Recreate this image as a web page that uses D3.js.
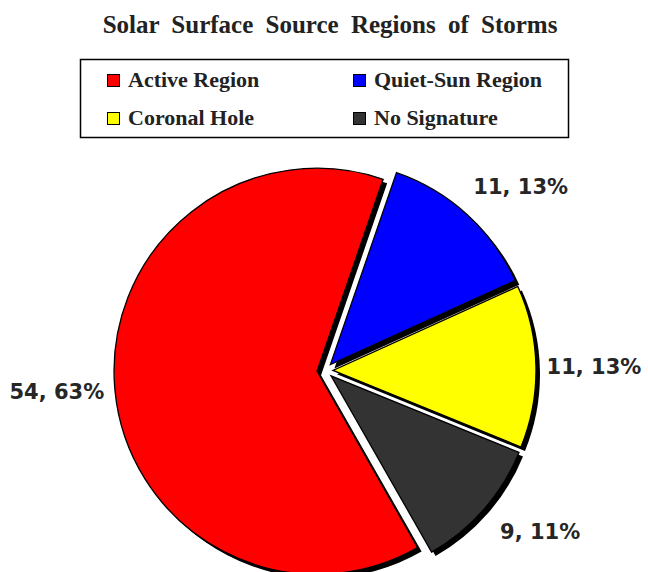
<!DOCTYPE html>
<html>
<head>
<meta charset="utf-8">
<script src="https://cdn.jsdelivr.net/npm/d3@7/dist/d3.min.js"></script>
<style>
  html, body { margin: 0; padding: 0; background: #fff; }
  svg { display: block; }
</style>
</head>
<body>
<svg id="chart" width="648" height="572"></svg>
<script>
// Storm source regions on the solar surface
const categories = ["Active Region", "Quiet-Sun Region", "Coronal Hole", "No Signature"];
const counts = [54, 11, 11, 9];
const percents = [63, 13, 13, 11];
const colors = ["#ff0000", "#0000ff", "#ffff00", "#333333"];

const width = 648, height = 572;
const svg = d3.select("#chart");

// Title
svg.append("text")
  .attr("x", 330)
  .attr("y", 33)
  .attr("text-anchor", "middle")
  .style("font-family", "'Liberation Serif', 'Times New Roman', serif")
  .style("font-weight", "bold")
  .style("font-size", "25px")
  .style("word-spacing", "6px")
  .attr("fill", "#222")
  .text("Solar Surface Source Regions of Storms");

// Legend box, two columns by two rows
const legend = svg.append("g");
legend.append("rect")
  .attr("x", 80.5).attr("y", 59.5)
  .attr("width", 488).attr("height", 78)
  .attr("fill", "#fff")
  .attr("stroke", "#000")
  .attr("stroke-width", 1.5);

const colX = d3.scaleOrdinal().domain([0, 1]).range([107, 353]);
const rowY = d3.scaleOrdinal().domain([0, 1]).range([87, 125]);

const items = legend.selectAll("g.item")
  .data(categories)
  .join("g")
  .attr("class", "item")
  .attr("transform", (d, i) => `translate(${colX(i % 2)},${rowY(Math.floor(i / 2))})`);

items.append("rect")
  .attr("x", 0.5).attr("y", -12.5)
  .attr("width", 12).attr("height", 12)
  .attr("fill", (d, i) => colors[i])
  .attr("stroke", "#000")
  .attr("stroke-width", 1);

items.append("text")
  .attr("x", 21)
  .attr("y", 0)
  .style("font-family", "'Liberation Serif', 'Times New Roman', serif")
  .style("font-weight", "bold")
  .style("font-size", "22px")
  .attr("fill", "#222")
  .text(d => d);

// Pie
const cx = 325, cy = 370.5;
const radius = 203;
const explode = 8;
const shadowOffset = 4;
const firstSliceAngle = 150.3 * Math.PI / 180;

const pie = d3.pie()
  .sort(null)
  .value(d => d)
  .startAngle(firstSliceAngle)
  .endAngle(firstSliceAngle + 2 * Math.PI);

const arcs = pie(counts);
const arc = d3.arc().innerRadius(0).outerRadius(radius);

const midAngle = a => (a.startAngle + a.endAngle) / 2;

const offset = a => {
  const mid = midAngle(a);
  return [explode * Math.sin(mid), -explode * Math.cos(mid)];
};

// Labels sit outside the rim, eased toward the horizontal axis
const labelRadius = 269;
const labelPos = a => {
  const m = midAngle(a);
  const t = m + (4.4 * Math.PI / 180) * Math.sin(2 * m);
  return [labelRadius * Math.sin(t), -labelRadius * Math.cos(t)];
};

const pieG = svg.append("g").attr("transform", `translate(${cx},${cy})`);

// Drop shadows beneath all slices
pieG.selectAll("path.shadow")
  .data(arcs)
  .join("path")
  .attr("class", "shadow")
  .attr("transform", a => {
    const [dx, dy] = offset(a);
    return `translate(${dx + shadowOffset},${dy + shadowOffset})`;
  })
  .attr("d", arc)
  .attr("fill", "#000");

// Slices
pieG.selectAll("path.slice")
  .data(arcs)
  .join("path")
  .attr("class", "slice")
  .attr("transform", a => {
    const [dx, dy] = offset(a);
    return `translate(${dx},${dy})`;
  })
  .attr("d", arc)
  .attr("fill", (a, i) => colors[i])
  .attr("stroke", "#000")
  .attr("stroke-width", 1.3)
  .attr("stroke-linejoin", "miter");

// Value labels outside the pie
pieG.selectAll("text.value")
  .data(arcs)
  .join("text")
  .attr("class", "value")
  .attr("transform", a => `translate(${labelPos(a)})`)
  .attr("text-anchor", "middle")
  .attr("dy", "0.36em")
  .style("font-family", "'DejaVu Sans', Verdana, sans-serif")
  .style("font-weight", "bold")
  .style("font-size", "21px")
  .attr("fill", "#262626")
  .text((a, i) => `${counts[i]}, ${percents[i]}%`);
</script>
</body>
</html>
